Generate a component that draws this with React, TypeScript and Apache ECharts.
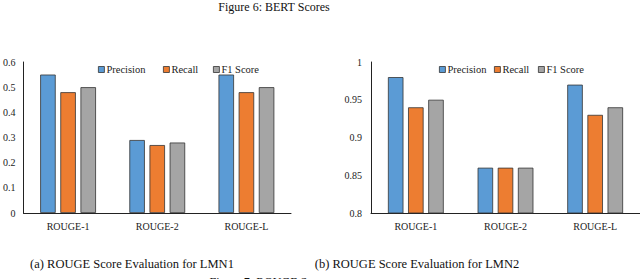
import React, { useEffect, useRef } from "react";
import * as echarts from "echarts";

const categories = ["ROUGE-1", "ROUGE-2", "ROUGE-L"];
const seriesNames = ["Precision", "Recall", "F1 Score"];
const lmn1Precision = [0.55, 0.29, 0.55];
const lmn1Recall = [0.48, 0.27, 0.48];
const lmn1F1 = [0.5, 0.28, 0.5];
const lmn2Precision = [0.98, 0.86, 0.97];
const lmn2Recall = [0.94, 0.86, 0.93];
const lmn2F1 = [0.95, 0.86, 0.94];
const colors = ["#5B9BD5", "#ED7D31", "#A5A5A5"];

const FONT = "Liberation Serif";

export default function App() {
  const ref = useRef<HTMLDivElement>(null);
  useEffect(() => {
    if (!ref.current) return;
    const chart = echarts.init(ref.current, null, { renderer: "svg" });
    const lmn1 = [lmn1Precision, lmn1Recall, lmn1F1];
    const lmn2 = [lmn2Precision, lmn2Recall, lmn2F1];
    const mkSeries = (data: number[][], idx: number) =>
      data.map((d, i) => ({
        name: seriesNames[i],
        type: "bar",
        xAxisIndex: idx,
        yAxisIndex: idx,
        data: d,
        barWidth: 15.5,
        barGap: "30%",
        itemStyle: { color: colors[i], borderColor: "#333", borderWidth: 0.8 },
      }));
    const legendX1 = [98, 163, 213];
    const legendX2 = [439, 494, 538];
    const legends = [...legendX1, ...legendX2].map((x, k) => ({
      data: [seriesNames[k % 3]],
      left: x,
      top: 64,
      icon: "rect",
      itemWidth: 6,
      itemHeight: 6,
      itemGap: 0,
      selectedMode: false,
      itemStyle: { borderColor: "#333", borderWidth: 0.8 },
      textStyle: { fontFamily: FONT, fontSize: 10.5, color: "#222", padding: [0, 0, 0, -3] },
      padding: 0,
    }));
    const axisLine = { show: true, lineStyle: { color: "#222", width: 1 } };
    const xAxisCommon = {
      type: "category",
      data: categories,
      axisLine,
      axisTick: { show: false },
      axisLabel: { fontFamily: FONT, fontSize: 10, color: "#222", margin: 8 },
    };
    const yLabel = { fontFamily: FONT, fontSize: 10, color: "#222", margin: 8 };
    chart.setOption({
      animation: false,
      grid: [
        { left: 22, top: 62, width: 269, height: 151 },
        { left: 371, top: 62, width: 269, height: 151 },
      ],
      legend: legends,
      xAxis: [
        { ...xAxisCommon, gridIndex: 0 },
        { ...xAxisCommon, gridIndex: 1 },
      ],
      yAxis: [
        {
          type: "value",
          gridIndex: 0,
          min: 0,
          max: 0.6,
          interval: 0.1,
          axisLine,
          axisTick: { show: false },
          splitLine: { show: false },
          axisLabel: yLabel,
        },
        {
          type: "value",
          gridIndex: 1,
          min: 0.8,
          max: 1,
          interval: 0.05,
          axisLine,
          axisTick: { show: false },
          splitLine: { show: false },
          axisLabel: { ...yLabel, margin: 9 },
        },
      ],
      series: [...mkSeries(lmn1, 0), ...mkSeries(lmn2, 1)],
      graphic: [
        {
          type: "text",
          x: 274,
          y: 7,
          style: { text: "Figure 6: BERT Scores", fontFamily: FONT, fontSize: 12, fill: "#111", align: "center", verticalAlign: "middle" },
        },
        {
          type: "text",
          x: 132,
          y: 264,
          style: { text: "(a) ROUGE Score Evaluation for LMN1", fontFamily: FONT, fontSize: 12.5, fill: "#111", align: "center", verticalAlign: "middle" },
        },
        {
          type: "text",
          x: 417,
          y: 264,
          style: { text: "(b) ROUGE Score Evaluation for LMN2", fontFamily: FONT, fontSize: 12.5, fill: "#111", align: "center", verticalAlign: "middle" },
        },
        {
          type: "text",
          x: 271,
          y: 282,
          style: { text: "Figure 7: ROUGE Scores", fontFamily: FONT, fontSize: 12, fill: "#111", align: "center", verticalAlign: "middle" },
        },
      ],
    });
    return () => chart.dispose();
  }, []);
  return (
    <div
      ref={ref}
      style={{ position: "absolute", left: 0, top: 0, width: 640, height: 279, background: "#fff" }}
    />
  );
}
